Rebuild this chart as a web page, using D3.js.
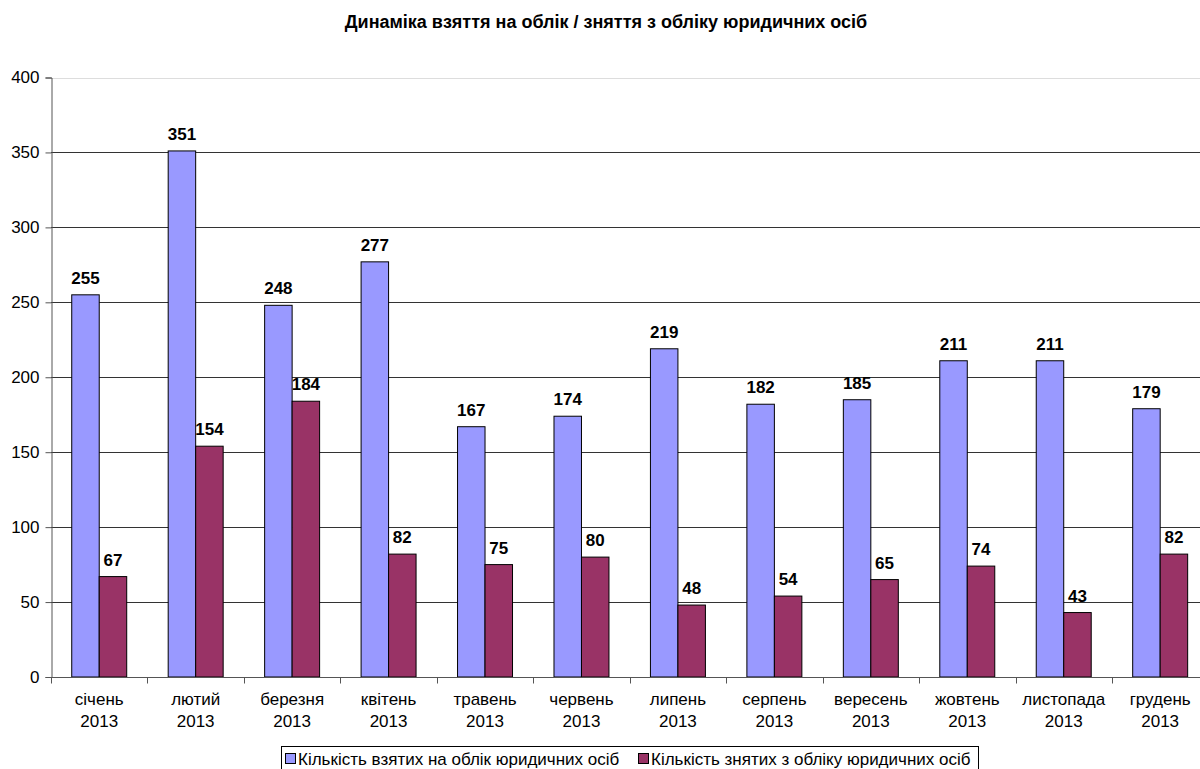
<!DOCTYPE html>
<html>
<head>
<meta charset="utf-8">
<script src="https://cdn.jsdelivr.net/npm/d3@7"></script>
<style>
  body { margin: 0; background: #fff; }
  svg { display: block; font-family: Arial, "Liberation Sans", sans-serif; }
</style>
</head>
<body>
<svg id="svg1" width="1200" height="769"></svg>
<script>
var months = ['січень', 'лютий', 'березня', 'квітень', 'травень', 'червень',
  'липень', 'серпень', 'вересень', 'жовтень', 'листопада', 'грудень'];
var year = '2013';
var taken = [255, 351, 248, 277, 167, 174, 219, 182, 185, 211, 211, 179];
var removed = [67, 154, 184, 82, 75, 80, 48, 54, 65, 74, 43, 82];
var seriesNames = ['Кількість взятих на облік юридичних осіб', 'Кількість знятих з обліку юридичних осіб'];
var colors = ['#9999ff', '#993366'];
var yTicks = [0, 50, 100, 150, 200, 250, 300, 350, 400];

var svg = d3.select('#svg1');

var x = d3.scaleBand()
  .domain(months)
  .range([51, 51 + 12 * 96.45]);

var y = d3.scaleLinear()
  .domain([0, 400])
  .range([677, 77.5]);

var barW = x.bandwidth() * 0.285;

// title
svg.append('text')
  .attr('x', 606)
  .attr('y', 28)
  .attr('text-anchor', 'middle')
  .attr('font-size', '18px')
  .attr('font-weight', 'bold')
  .text('Динаміка взяття на облік / зняття з обліку юридичних осіб');

// gridlines
svg.append('g')
  .selectAll('line')
  .data(yTicks.filter(function (d) { return d > 0; }))
  .enter()
  .append('line')
  .attr('x1', 51)
  .attr('x2', 1200)
  .attr('y1', function (d) { return Math.round(y(d)) + 0.5; })
  .attr('y2', function (d) { return Math.round(y(d)) + 0.5; })
  .attr('stroke', function (d) { return d === 400 ? '#dddddd' : '#333'; })
  .attr('stroke-width', 1);

// bars
var groups = svg.append('g')
  .selectAll('g')
  .data(months)
  .enter()
  .append('g');

groups.append('rect')
  .attr('x', function (d) { return x(d) + x.bandwidth() / 2 - barW; })
  .attr('y', function (d, i) { return y(taken[i]); })
  .attr('width', barW)
  .attr('height', function (d, i) { return y(0) - y(taken[i]); })
  .attr('fill', colors[0])
  .attr('stroke', '#000')
  .attr('stroke-width', 1);

groups.append('rect')
  .attr('x', function (d) { return x(d) + x.bandwidth() / 2; })
  .attr('y', function (d, i) { return y(removed[i]); })
  .attr('width', barW)
  .attr('height', function (d, i) { return y(0) - y(removed[i]); })
  .attr('fill', colors[1])
  .attr('stroke', '#000')
  .attr('stroke-width', 1);

groups.append('text')
  .attr('x', function (d) { return x(d) + x.bandwidth() / 2 - barW / 2; })
  .attr('y', function (d, i) { return y(taken[i]) - 11; })
  .attr('text-anchor', 'middle')
  .attr('font-size', '17px')
  .attr('font-weight', 'bold')
  .text(function (d, i) { return taken[i]; });

groups.append('text')
  .attr('x', function (d) { return x(d) + x.bandwidth() / 2 + barW / 2; })
  .attr('y', function (d, i) { return y(removed[i]) - 11; })
  .attr('text-anchor', 'middle')
  .attr('font-size', '17px')
  .attr('font-weight', 'bold')
  .text(function (d, i) { return removed[i]; });

// y axis
var yAxis = svg.append('g')
  .attr('transform', 'translate(51.5,0)')
  .call(d3.axisLeft(y).tickValues(yTicks).tickSize(6).tickPadding(6));
yAxis.select('.domain').attr('stroke', '#555');
yAxis.selectAll('.tick line').attr('stroke', '#555');
yAxis.selectAll('text').attr('font-size', '17px').attr('fill', '#000').attr('font-family', 'Arial, "Liberation Sans", sans-serif');

// x axis
var xAxis = svg.append('g')
  .attr('transform', 'translate(0,' + (Math.round(y(0)) + 0.5) + ')');
xAxis.append('line')
  .attr('x1', 51)
  .attr('x2', 1200)
  .attr('stroke', '#555');
xAxis.selectAll('.tk')
  .data(months)
  .enter()
  .append('line')
  .attr('class', 'tk')
  .attr('x1', function (d) { return Math.round(x(d)) + 0.5; })
  .attr('x2', function (d) { return Math.round(x(d)) + 0.5; })
  .attr('y1', 0)
  .attr('y2', 6)
  .attr('stroke', '#555');

var lbl = xAxis.selectAll('.lbl')
  .data(months)
  .enter()
  .append('text')
  .attr('class', 'lbl')
  .attr('text-anchor', 'middle')
  .attr('font-size', '17px');
lbl.append('tspan')
  .attr('x', function (d) { return x(d) + x.bandwidth() / 2; })
  .attr('y', 27)
  .text(function (d) { return d; });
lbl.append('tspan')
  .attr('x', function (d) { return x(d) + x.bandwidth() / 2; })
  .attr('y', 49)
  .text(year);

// legend
var legend = svg.append('g');
legend.append('rect')
  .attr('x', 281.5)
  .attr('y', 746.5)
  .attr('width', 697)
  .attr('height', 30)
  .attr('fill', '#fff')
  .attr('stroke', '#000');

var legX = [285, 638];
seriesNames.forEach(function (name, i) {
  legend.append('rect')
    .attr('x', legX[i] + 0.5)
    .attr('y', 753.5)
    .attr('width', 10)
    .attr('height', 10)
    .attr('fill', colors[i])
    .attr('stroke', '#000');
  legend.append('text')
    .attr('x', legX[i] + 13)
    .attr('y', 765)
    .attr('font-size', '17px')
    .text(name);
});
</script>
</body>
</html>
